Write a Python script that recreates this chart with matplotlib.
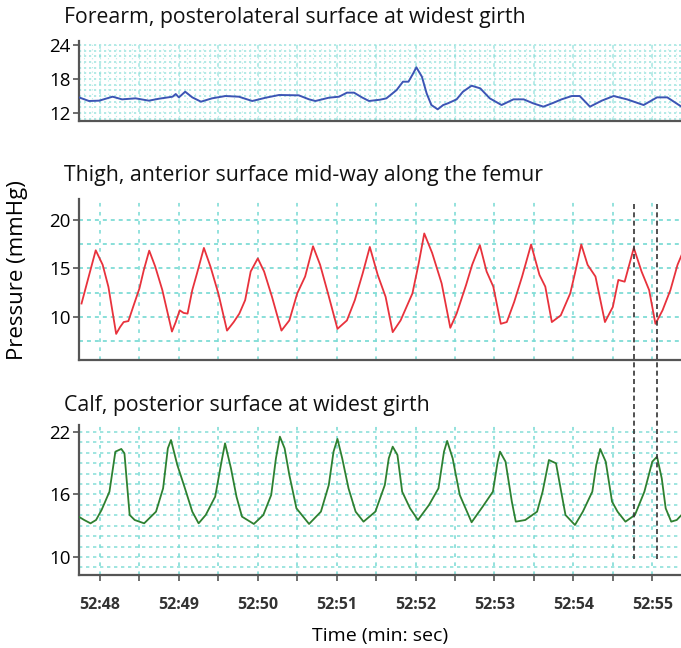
import matplotlib
matplotlib.use("Agg")
import matplotlib.pyplot as plt
import numpy as np
from matplotlib.transforms import blended_transform_factory
from matplotlib.lines import Line2D

# ---- data (time in seconds after 52:00, pressure in mmHg) ----
forearm_t = [47.734, 47.86, 47.99, 48.16, 48.28, 48.45, 48.62, 48.75, 48.92, 48.96, 49.0, 49.08,
             49.17, 49.28, 49.42, 49.59, 49.76, 49.93, 50.10, 50.27, 50.52, 50.65, 50.73, 50.90,
             51.03, 51.13, 51.22, 51.32, 51.41, 51.55, 51.63, 51.76, 51.84, 51.91, 51.97, 52.01,
             52.08, 52.14, 52.20, 52.28, 52.35, 52.41, 52.52, 52.60, 52.71, 52.82, 52.94, 53.09,
             53.24, 53.37, 53.49, 53.62, 53.75, 53.85, 53.98, 54.08, 54.21, 54.36, 54.51, 54.68,
             54.89, 55.06, 55.19, 55.37]
forearm_v = [14.76, 14.12, 14.18, 14.88, 14.41, 14.59, 14.18, 14.53, 14.88, 15.35, 14.76, 15.76,
             14.76, 14.0, 14.59, 15.0, 14.88, 14.12, 14.7, 15.18, 15.12, 14.41, 14.12, 14.7,
             14.88, 15.59, 15.59, 14.76, 14.12, 14.35, 14.59, 16.06, 17.53, 17.53, 19.0, 20.06,
             18.41, 15.47, 13.41, 12.65, 13.41, 13.71, 14.41, 15.76, 16.82, 16.35, 14.59, 13.41,
             14.41, 14.41, 13.71, 13.12, 13.82, 14.41, 15.0, 15.0, 13.12, 14.18, 15.0, 14.41,
             13.41, 14.76, 14.76, 13.12]

thigh_t = [47.766, 47.946, 48.034, 48.107, 48.205, 48.254, 48.30, 48.36, 48.42, 48.50, 48.556, 48.624,
           48.70, 48.79, 48.912, 48.96, 49.01, 49.06, 49.11, 49.17, 49.23, 49.317, 49.40, 49.50,
           49.61, 49.695, 49.766, 49.84, 49.91, 50.0, 50.08, 50.18, 50.30, 50.40, 50.50, 50.60,
           50.70, 50.79, 50.89, 51.01, 51.13, 51.23, 51.33, 51.42, 51.52, 51.62, 51.71, 51.81,
           51.96, 52.04, 52.11, 52.21, 52.33, 52.44, 52.52, 52.64, 52.717, 52.815, 52.90, 52.985,
           53.08, 53.156, 53.25, 53.35, 53.464, 53.57, 53.644, 53.727, 53.84, 53.96, 54.02, 54.10,
           54.18, 54.28, 54.40, 54.50, 54.57, 54.65, 54.766, 54.864, 54.96, 55.04, 55.13, 55.23,
           55.32, 55.41]
thigh_v = [11.39, 16.875, 15.38, 13.1, 8.26, 8.96, 9.48, 9.58, 11.04, 12.95, 14.86, 16.84,
           15.2, 12.78, 8.5, 9.48, 10.69, 10.42, 10.35, 12.78, 14.51, 17.12, 15.2, 12.43,
           8.6, 9.48, 10.35, 11.74, 14.69, 16.04, 14.69, 12.08, 8.6, 9.65, 12.43, 14.17,
           17.29, 15.38, 12.43, 8.78, 9.65, 11.74, 14.51, 17.22, 14.34, 12.08, 8.44, 9.65,
           12.43, 15.55, 18.61, 16.6, 13.47, 8.89, 10.35, 13.3, 15.38, 17.4, 14.69, 13.13,
           9.3, 9.48, 11.56, 14.17, 17.47, 14.34, 13.13, 9.48, 10.17, 12.43, 14.51, 17.47,
           15.38, 14.17, 9.48, 11.04, 13.82, 13.64, 17.12, 14.69, 12.78, 9.3, 10.69, 12.78,
           15.38, 17.12]

calf_t = [47.73, 47.80, 47.88, 47.95, 48.02, 48.12, 48.195, 48.27, 48.31, 48.34, 48.376, 48.44,
          48.56, 48.71, 48.80, 48.86, 48.90, 48.98, 49.07, 49.17, 49.25, 49.34, 49.46, 49.54,
          49.585, 49.66, 49.73, 49.80, 49.95, 50.07, 50.17, 50.23, 50.28, 50.34, 50.40, 50.49,
          50.65, 50.80, 50.90, 50.96, 51.01, 51.07, 51.15, 51.24, 51.34, 51.49, 51.61, 51.66,
          51.71, 51.77, 51.83, 51.93, 52.03, 52.17, 52.29, 52.36, 52.40, 52.47, 52.56, 52.71,
          52.85, 52.98, 53.04, 53.07, 53.14, 53.22, 53.27, 53.39, 53.54, 53.61, 53.69, 53.78,
          53.83, 53.90, 54.02, 54.12, 54.24, 54.29, 54.34, 54.41, 54.49, 54.56, 54.66, 54.78,
          54.90, 55.00, 55.06, 55.12, 55.17, 55.24, 55.31, 55.37]
calf_v = [13.87, 13.55, 13.23, 13.55, 14.51, 16.27, 20.11, 20.37, 19.95, 17.23, 14.03, 13.55,
          13.23, 14.35, 16.59, 20.43, 21.23, 18.83, 16.75, 14.35, 13.23, 14.03, 15.79, 19.15,
          20.91, 18.51, 15.79, 13.87, 13.17, 14.03, 15.95, 19.47, 21.55, 20.43, 17.87, 14.67,
          13.17, 14.35, 16.91, 20.11, 21.33, 19.47, 16.59, 14.35, 13.39, 14.35, 16.91, 19.47,
          20.59, 19.79, 16.27, 14.67, 13.55, 14.99, 16.59, 20.11, 21.14, 19.47, 15.95, 13.33,
          14.83, 16.27, 19.15, 20.11, 19.15, 15.31, 13.39, 13.55, 14.35, 16.27, 19.31, 18.99,
          16.91, 14.03, 13.07, 14.35, 16.27, 18.83, 20.37, 19.15, 15.31, 14.35, 13.39, 14.03,
          16.27, 19.15, 19.63, 17.55, 14.67, 13.39, 13.55, 14.03]

tick_seconds = [48, 49, 50, 51, 52, 53, 54, 55]
tick_labels = ["52:48", "52:49", "52:50", "52:51", "52:52", "52:53", "52:54", "52:55"]
marker_times = [54.766, 55.066]

titles = ["Forearm, posterolateral surface at widest girth",
          "Thigh, anterior surface mid-way along the femur",
          "Calf, posterior surface at widest girth"]

# ---- figure ----
W, H = 681, 648
fig = plt.figure(figsize=(W / 100, H / 100), dpi=100)
plt.rcParams['font.family'] = ['Open Sans', 'DejaVu Sans']

def fy(px):
    return 1 - px / H

left = 79 / W
width = 1 - left
ax1 = fig.add_axes([left, fy(121), width, fy(41) - fy(121)])
ax2 = fig.add_axes([left, fy(360), width, fy(199) - fy(360)])
ax3 = fig.add_axes([left, fy(575), width, fy(425) - fy(575)])

xlim = (47.734, 55.364)
grid_c = '#7fdcd6'
spine_c = '#555555'

def style(ax, ylim, yticks, hgrid, hdash, hlw, hcol, dense=False):
    ax.set_xlim(*xlim)
    ax.set_ylim(*ylim)
    for s in ['top', 'right']:
        ax.spines[s].set_visible(False)
    for s in ['left', 'bottom']:
        ax.spines[s].set_color(spine_c)
        ax.spines[s].set_linewidth(1.6)
    ax.set_yticks(yticks)
    ax.tick_params(axis='y', labelsize=13.5, length=4, width=1.2, color=spine_c, pad=2)
    for h in hgrid:
        ax.axhline(h, color=hcol, lw=hlw, ls=(0, hdash), zorder=0)
    for v in np.arange(48.0, 55.4, 0.5):
        ax.axvline(v, color=grid_c, lw=1.3, ls=(0, (2, 3)), zorder=0, alpha=0.9 if not dense else 0.6)
    if dense:
        for v in np.arange(47.8, 55.4, 0.1):
            ax.axvline(v, color='#b5ece8', lw=0.8, ls=(0, (1, 3)), zorder=0)

style(ax1, (10.59, 24.71), [12, 18, 24], np.arange(11, 25, 1), (1.3, 1.7), 1.2, '#a5e6e1', dense=True)
style(ax2, (5.57, 22.16), [10, 15, 20], np.arange(7.5, 22, 2.5), (2.2, 2.2), 1.3, grid_c)
style(ax3, (8.27, 22.67), [10, 16, 22], np.arange(9, 23, 1), (2, 2.2), 1.2, '#8fe0da')

ax1.plot(forearm_t, forearm_v, color='#3c55b5', lw=1.4, zorder=3)
ax2.plot(thigh_t, thigh_v, color='#e8323c', lw=1.3, zorder=3)
ax3.plot(calf_t, calf_v, color='#2e8030', lw=1.3, zorder=3)

for ax in (ax1, ax2):
    ax.set_xticks([])

ax3.set_xticks(tick_seconds)
ax3.set_xticklabels(tick_labels, fontweight='bold', color='#333333')
ax3.set_xticks([t + 0.5 for t in tick_seconds[:-1]], minor=True)
ax3.set_xlim(*xlim)
ax3.tick_params(axis='x', which='major', labelsize=11.5, length=4, width=1.2, color=spine_c, pad=12)
ax3.tick_params(axis='x', which='minor', length=4, width=1.2, color=spine_c)
ax3.set_xlabel("Time (min: sec)", fontsize=14, labelpad=10)

# vertical dashed markers spanning thigh and calf panels
tr = blended_transform_factory(ax2.transData, fig.transFigure)
for mt in marker_times:
    fig.add_artist(Line2D([mt, mt], [fy(204), fy(560)], transform=tr, color='#333333',
                          lw=1.2, ls=(0, (3, 2)), zorder=5))

# titles
for ttl, ypx in zip(titles, [18, 175, 405]):
    fig.text(64 / W, fy(ypx), ttl, fontsize=15.3, ha='left', va='center', color='#111111')

fig.text(18 / W, fy(270), "Pressure (mmHg)", fontsize=16, rotation=90, ha='center', va='center')

fig.savefig("out.png", dpi=100)
